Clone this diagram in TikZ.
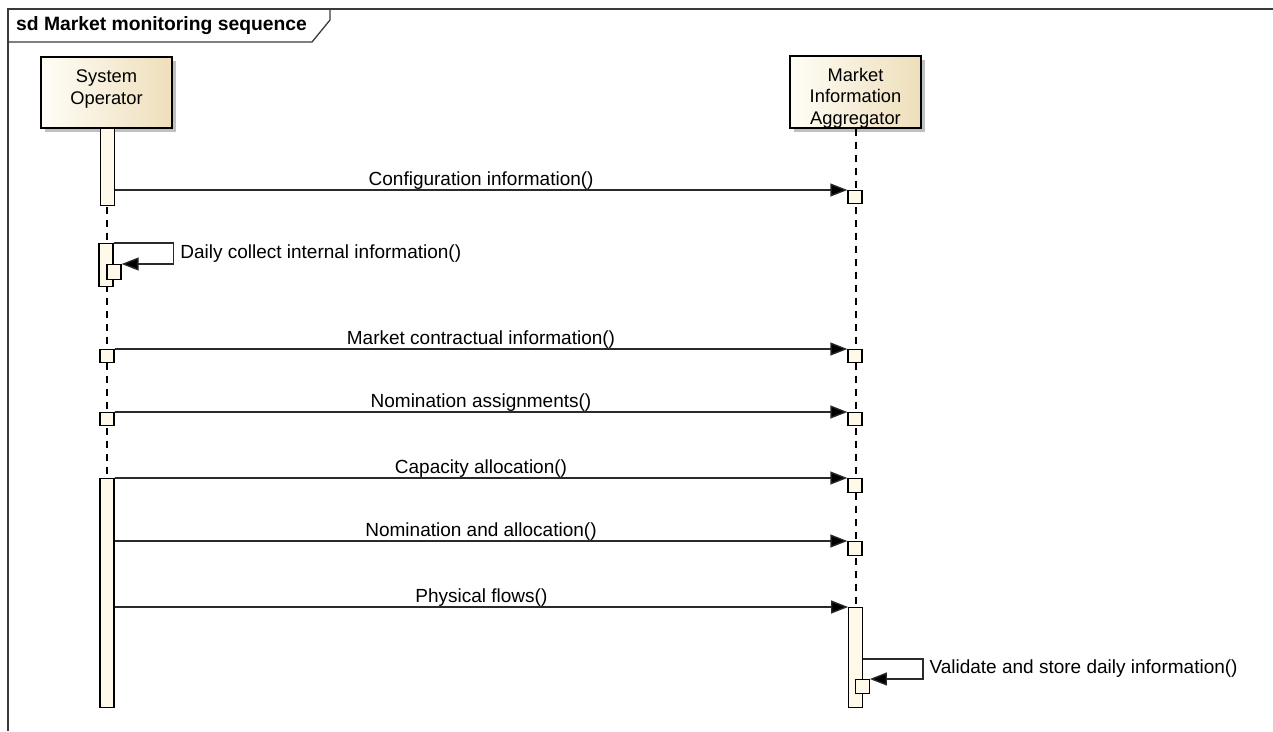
\documentclass[tikz,border=0pt]{standalone}
\usepackage{fontspec}
\setmainfont{Liberation Sans}
\usetikzlibrary{arrows.meta,shadows}

\definecolor{headL}{HTML}{FFFDF6}
\definecolor{headR}{HTML}{EEDFBB}
\definecolor{barfill}{HTML}{FFF9EA}
\definecolor{msgcol}{HTML}{2A2A2A}
\definecolor{framecol}{HTML}{3A3A3A}

\tikzset{
  frameline/.style={draw=framecol, line width=1.3pt},
  frametitle/.style={font=\fontsize{19.3}{22}\selectfont\bfseries, inner sep=0pt, anchor=west},
  head/.style={draw=black, line width=1.4pt, left color=headL, right color=headR,
    minimum width=131pt, inner sep=0pt,
    drop shadow={shadow xshift=4pt, shadow yshift=-4pt, fill=black!45, opacity=0.55}},
  headtext/.style={font=\fontsize{18.3}{21.5}\selectfont, align=center, inner sep=0pt, anchor=north},
  lifeline/.style={draw=black, line width=1.3pt, dash pattern=on 7pt off 6pt},
  bar/.style={draw=black, line width=1.3pt, fill=barfill, minimum width=13.5pt, inner sep=0pt, anchor=north},
  exec/.style={draw=black, line width=1.3pt, fill=barfill, minimum width=14pt, minimum height=14pt, inner sep=0pt, anchor=north},
  msg/.style={draw=msgcol, line width=1.3pt, -{Triangle[length=17pt,width=13pt,fill=black]}},
  msgtext/.style={midway, anchor=base, yshift=5pt, inner sep=0pt, text=black, font=\fontsize{19}{22}\selectfont},
  selftext/.style={midway, anchor=west, xshift=6pt, inner sep=0pt, text=black, font=\fontsize{19}{22}\selectfont},
}

\begin{document}
\begin{tikzpicture}[x=1pt,y=-1pt]
\useasboundingbox (0,0) rectangle (1273,731);

% interaction frame and its name tab
\draw[frameline] (8,731) -- (8,9) -- (1273,9);
\draw[frameline] (8,9) -- (330,9) -- (330,20) -- (312,42) -- (8,42);
\node[frametitle] (title) at (16,26) {sd Market monitoring sequence};

% lifeline heads
\node[head, minimum height=71pt] (so) at (106.5,92.5) {};
\node[headtext] (soT) at ([yshift=-13.5pt]so.north) {System\\Operator};
\node[head, minimum height=72pt] (mia) at (855.5,92) {};
\node[headtext] (miaT) at ([yshift=-12.5pt]mia.north) {Market\\Information\\Aggregator};

% dashed lifelines
\coordinate (soEnd) at (107,707);
\coordinate (miaEnd) at (856,707);
\draw[lifeline] (so.south -| soEnd) -- (soEnd);
\draw[lifeline] (mia.south -| miaEnd) -- (miaEnd);

% System Operator activations
\node[bar, minimum height=77pt] (so1) at (107.5,128) {};
\node[bar, minimum height=43pt, minimum width=14pt] (so2) at (106,243) {};
\node[exec, minimum height=15pt] (so2x) at (114,264) {};
\node[exec, minimum height=13pt] (so3) at (107,349) {};
\node[exec, minimum height=13pt] (so4) at (107,412) {};
\node[bar, minimum height=229pt, minimum width=14pt] (so5) at (107,478) {};

% Market Information Aggregator activations
\node[exec, minimum height=13pt] (mia1) at (855,190) {};
\node[exec, minimum height=13pt] (mia3) at (855,349) {};
\node[exec, minimum height=13pt] (mia4) at (855,412) {};
\node[exec, minimum height=14pt] (mia5) at (855,478) {};
\node[exec, minimum height=14pt] (mia6) at (855,541) {};
\node[bar, minimum height=100pt] (mia7) at (855.5,607) {};
\node[exec, minimum height=14pt, minimum width=13.5pt] (mia8x) at (862.5,679) {};

% messages
\draw[msg] (so1.east |- mia1.north) -- (mia1.north west)
  node[msgtext] {Configuration information()};
\draw[msg] (so2.north east) -- ++(60,0) coordinate (so2c) -- (so2c |- so2x.north)
  node[selftext] {Daily collect internal information()} -- (so2x.north east);
\draw[msg] (so3.north east) -- (mia3.north west)
  node[msgtext] {Market contractual information()};
\draw[msg] (so4.north east) -- (mia4.north west)
  node[msgtext] {Nomination assignments()};
\draw[msg] (so5.east |- mia5.north) -- (mia5.north west)
  node[msgtext] {Capacity allocation()};
\draw[msg] (so5.east |- mia6.north) -- (mia6.north west)
  node[msgtext] {Nomination and allocation()};
\draw[msg] (so5.east |- mia7.north) -- (mia7.north west)
  node[msgtext] {Physical flows()};
\draw[msg] ([yshift=-52pt]mia7.north east) -- ++(60,0) coordinate (m8c) -- (m8c |- mia8x.north)
  node[selftext] {Validate and store daily information()} -- (mia8x.north east);
\end{tikzpicture}
\end{document}
